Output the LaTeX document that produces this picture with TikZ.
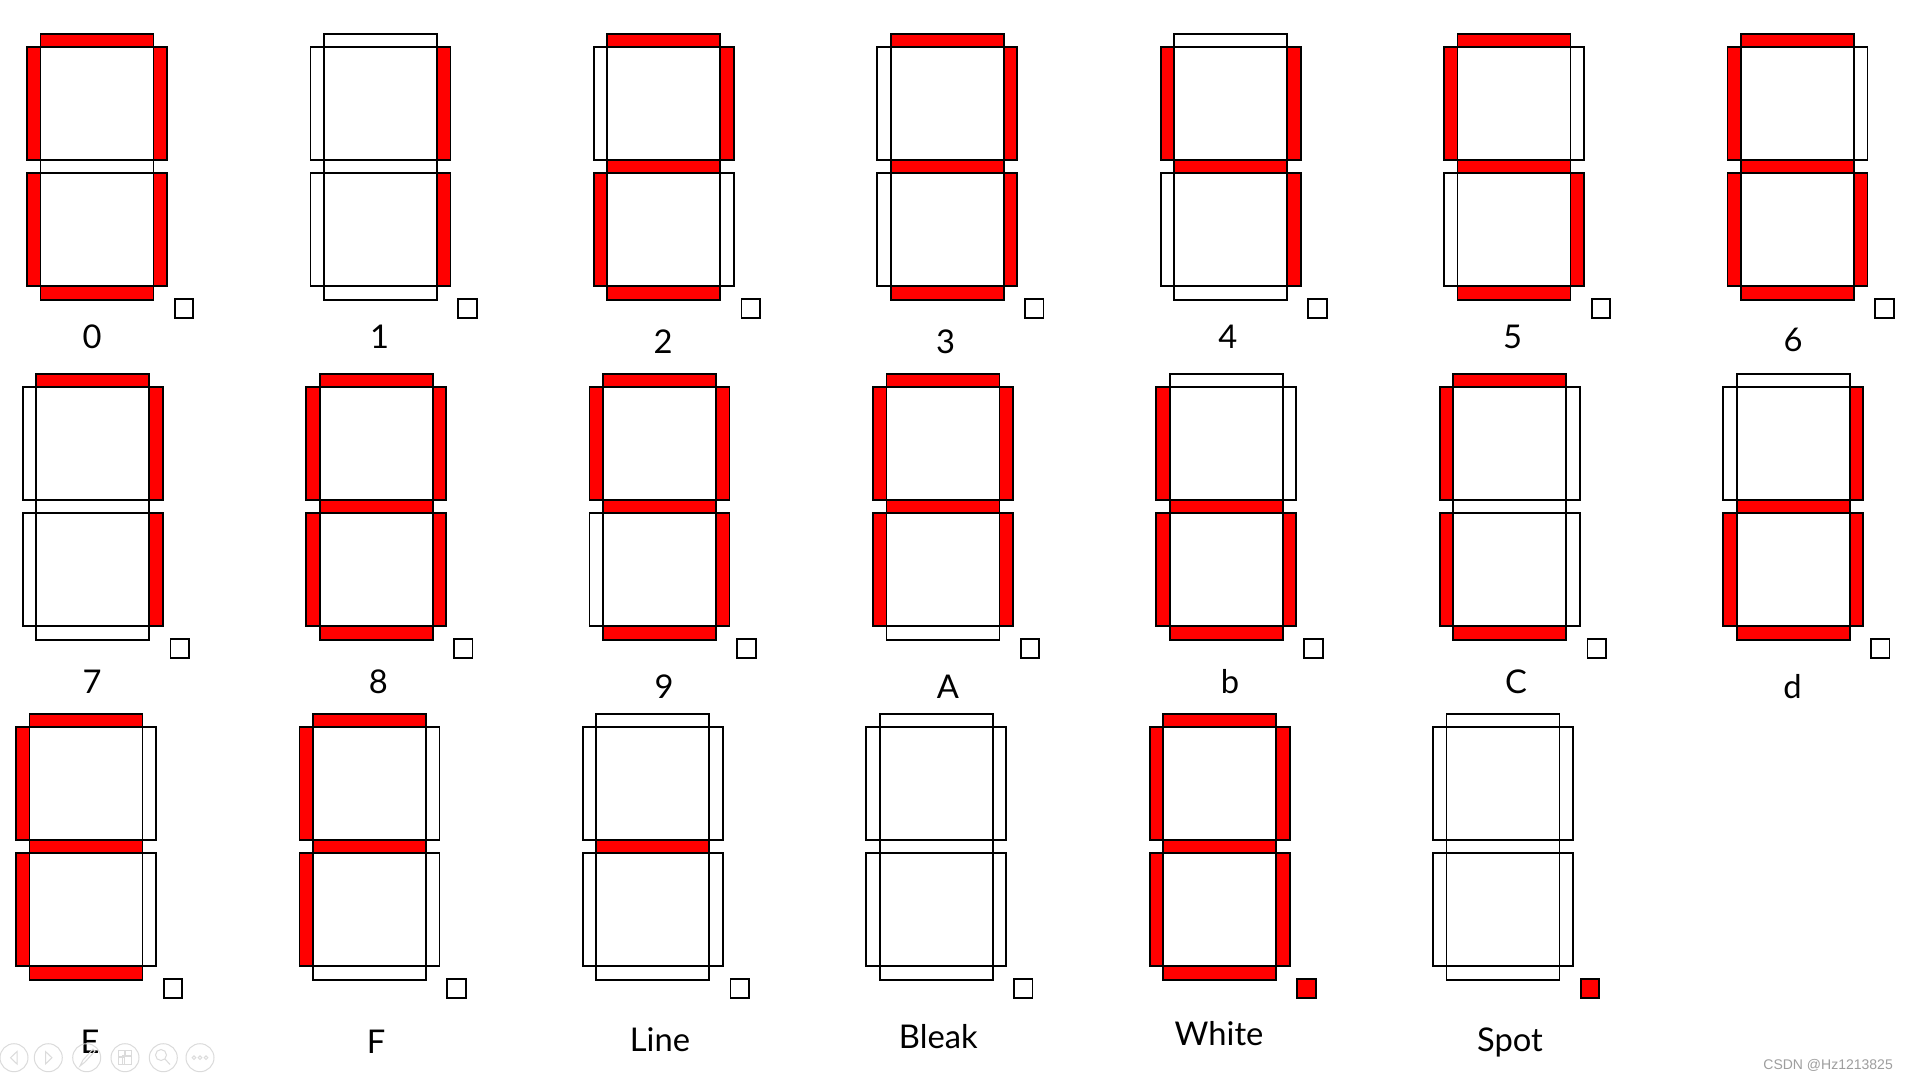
\documentclass[tikz,border=0pt]{standalone}
\usepackage{fontspec}
\setmainfont{Lato}
\newfontfamily\wmfont{Liberation Sans}
\definecolor{segred}{RGB}{255,0,0}
\tikzset{
 seg/.style={draw=black, line width=1.8pt},
 s1/.style={fill=segred}, s0/.style={fill=white},
 lbl/.style={font=\fontsize{32.7}{39}\selectfont, anchor=base, inner sep=0pt},
 navicon/.style={draw=black!14, line width=1pt}
}
% args: a b c d e f g dp  (1 = lit, 0 = dark)
\newcommand\sevdigit[8]{%
 \draw[seg,s#1] (13.5,0) rectangle (126.5,12.7);
 \draw[seg,s#6] (0,12.7) rectangle (13.5,126);
 \draw[seg,s#2] (126.5,12.7) rectangle (140,126);
 \draw[seg,s#7] (13.5,126) rectangle (126.5,138.7);
 \draw[seg,s#5] (0,138.7) rectangle (13.5,252);
 \draw[seg,s#3] (126.5,138.7) rectangle (140,252);
 \draw[seg,s#4] (13.5,252) rectangle (126.5,266);
 \draw[seg,s#8] (147.7,265.3) rectangle (166.3,284);
}
\begin{document}
\begin{tikzpicture}[x=1pt,y=-1pt]
\fill[white] (0,0) rectangle (1908,1080);
\useasboundingbox (0,0) rectangle (1908,1080);
% ---------- row 1
\begin{scope}[shift={(27,34)}]\sevdigit{1}{1}{1}{1}{1}{1}{0}{0}\end{scope}
\begin{scope}[shift={(310.4,34)}]\sevdigit{0}{1}{1}{0}{0}{0}{0}{0}\end{scope}
\begin{scope}[shift={(593.8,34)}]\sevdigit{1}{1}{0}{1}{1}{0}{1}{0}\end{scope}
\begin{scope}[shift={(877.2,34)}]\sevdigit{1}{1}{1}{1}{0}{0}{1}{0}\end{scope}
\begin{scope}[shift={(1160.6,34)}]\sevdigit{0}{1}{1}{0}{0}{1}{1}{0}\end{scope}
\begin{scope}[shift={(1444,34)}]\sevdigit{1}{0}{1}{1}{0}{1}{1}{0}\end{scope}
\begin{scope}[shift={(1727.4,34)}]\sevdigit{1}{0}{1}{1}{1}{1}{1}{0}\end{scope}
% ---------- row 2
\begin{scope}[shift={(22.7,374)}]\sevdigit{1}{1}{1}{0}{0}{0}{0}{0}\end{scope}
\begin{scope}[shift={(306.1,374)}]\sevdigit{1}{1}{1}{1}{1}{1}{1}{0}\end{scope}
\begin{scope}[shift={(589.5,374)}]\sevdigit{1}{1}{1}{1}{0}{1}{1}{0}\end{scope}
\begin{scope}[shift={(872.9,374)}]\sevdigit{1}{1}{1}{0}{1}{1}{1}{0}\end{scope}
\begin{scope}[shift={(1156.3,374)}]\sevdigit{0}{0}{1}{1}{1}{1}{1}{0}\end{scope}
\begin{scope}[shift={(1439.7,374)}]\sevdigit{1}{0}{0}{1}{1}{1}{0}{0}\end{scope}
\begin{scope}[shift={(1723.1,374)}]\sevdigit{0}{1}{1}{1}{1}{0}{1}{0}\end{scope}
% ---------- row 3
\begin{scope}[shift={(16,714)}]\sevdigit{1}{0}{0}{1}{1}{1}{1}{0}\end{scope}
\begin{scope}[shift={(299.4,714)}]\sevdigit{1}{0}{0}{0}{1}{1}{1}{0}\end{scope}
\begin{scope}[shift={(582.8,714)}]\sevdigit{0}{0}{0}{0}{0}{0}{1}{0}\end{scope}
\begin{scope}[shift={(866.2,714)}]\sevdigit{0}{0}{0}{0}{0}{0}{0}{0}\end{scope}
\begin{scope}[shift={(1149.6,714)}]\sevdigit{1}{1}{1}{1}{1}{1}{1}{1}\end{scope}
\begin{scope}[shift={(1433,714)}]\sevdigit{0}{0}{0}{0}{0}{0}{0}{1}\end{scope}
% ---------- labels
\node[lbl] (l0) at (92,348) {0};
\node[lbl] (l1) at (379.6,348) {1};
\node[lbl] (l2) at (663.2,353) {2};
\node[lbl] (l3) at (945.5,353) {3};
\node[lbl] (l4) at (1227.8,348) {4};
\node[lbl] (l5) at (1512.5,348) {5};
\node[lbl] (l6) at (1793,351) {6};
\node[lbl] (l7) at (92,693) {7};
\node[lbl] (l8) at (378.4,693) {8};
\node[lbl] (l9) at (664,698) {9};
\node[lbl] (lA) at (948,698) {A};
\node[lbl] (lb) at (1230,693) {b};
\node[lbl] (lC) at (1516,693) {C};
\node[lbl] (ld) at (1792.4,698) {d};
\node[lbl] (lE) at (90,1053) {E};
\node[lbl] (lF) at (376,1053) {F};
\node[lbl] (lLine) at (660,1051.7) {Line};
\node[lbl] (lBleak) at (938.3,1048.3) {Bleak};
\node[lbl] (lWhite) at (1219,1045) {White};
\node[lbl] (lSpot) at (1510,1051.7) {Spot};
% ---------- watermark
\node[font=\wmfont\fontsize{14}{16}\selectfont, text=black!38, anchor=base east, inner sep=0pt] (wm) at (1893,1069) {CSDN @Hz1213825};
% ---------- faint slide-show controls
\foreach \cx in {14,48.3,86.7,125,163.3,200}{\draw[navicon] (\cx,1057.7) circle (14);}
\draw[navicon] (17,1051.5) -- (10.5,1057.7) -- (17,1064) -- cycle;
\draw[navicon] (45.5,1051.5) -- (52,1057.7) -- (45.5,1064) -- cycle;
\draw[navicon] (80,1066) -- (83,1060) -- (93,1049) -- (95,1051) -- (85,1062) -- cycle;
\draw[navicon] (118,1050) rectangle (124,1056) (125,1050) rectangle (131,1056) (118,1057) rectangle (124,1064) (122,1055) rectangle (131,1064);
\draw[navicon] (161,1055) circle (5.5) (165,1059) -- (170,1064.5);
\foreach \dx in {194,200,206}{\draw[navicon] (\dx,1057.7) circle (1.8);}
\end{tikzpicture}
\end{document}
